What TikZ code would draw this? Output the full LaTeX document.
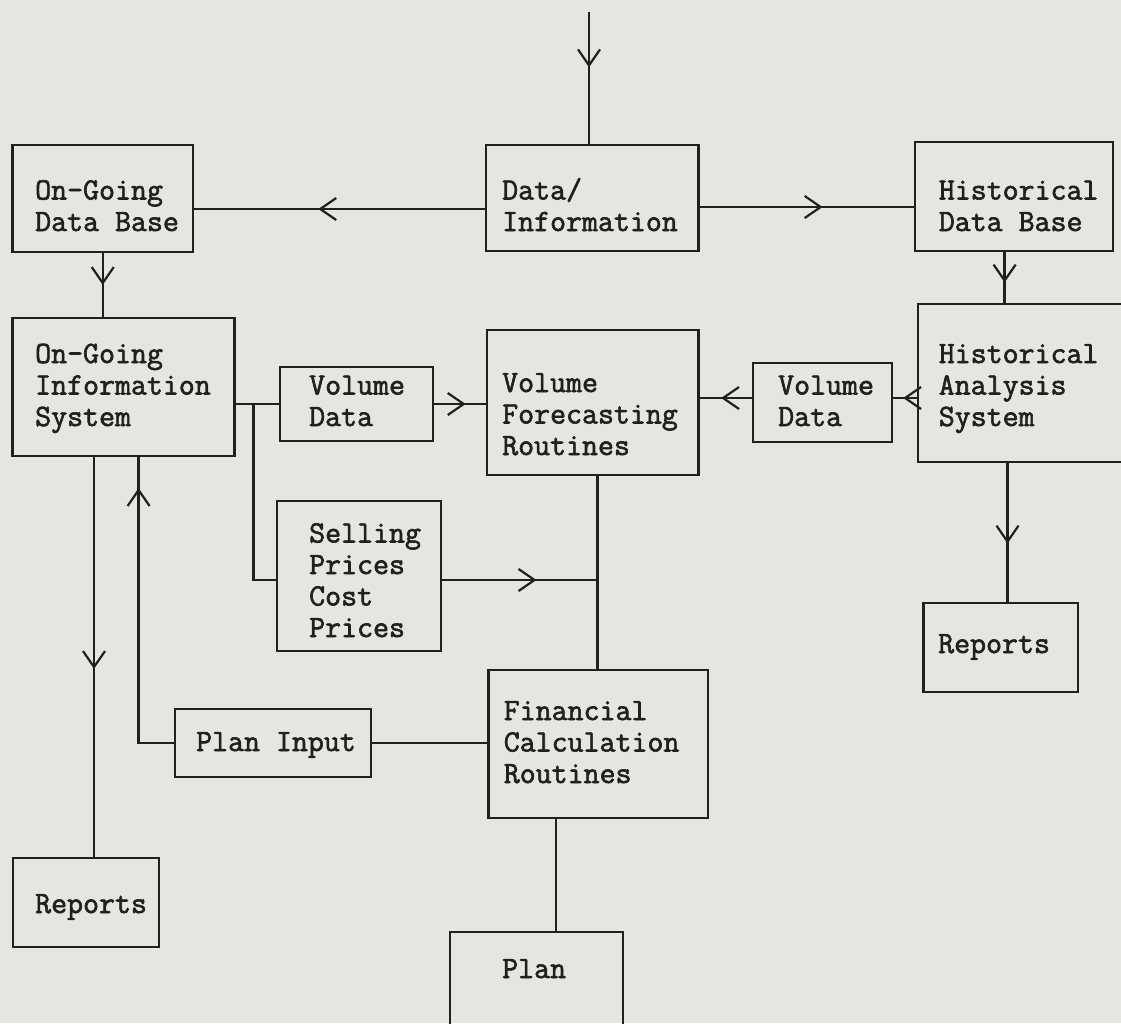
\documentclass[tikz,border=0pt]{standalone}
\usepackage{fontspec}
\newfontfamily\tw{Latin Modern Mono}[FakeBold=2]
\usetikzlibrary{arrows.meta,decorations.markings,fit}
\definecolor{paper}{RGB}{228,231,223}
\definecolor{ink}{RGB}{32,32,32}
\begin{document}
\begin{tikzpicture}[x=1pt,y=-1pt,
  box/.style={draw=ink, line width=2.5pt, inner sep=0pt, rectangle},
  txt/.style={anchor=base west, inner sep=0pt, align=left, text=ink,
              font=\tw\fontsize{31}{31.5}\selectfont},
  conn/.style={draw=ink, line width=2.3pt},
  arr/.style={postaction={decorate}, decoration={markings,
      mark=at position #1 with {\arrow{Straight Barb[length=16pt,width=22pt,line width=2.2pt]}}}}]
\fill[paper] (0,0) rectangle (1121,1023);
\useasboundingbox (0,0) rectangle (1121,1023);
\clip (0,0) rectangle (1121,1023);

% boxes
\node[box, fit={(12.5,145) (193,252)}] (ogdb) {};
\node[box, fit={(486,145) (698.6,251)}] (dinfo) {};
\node[box, fit={(915,142) (1113,251)}] (hdb) {};
\node[box, fit={(12.5,318) (234.6,456)}] (ogis) {};
\node[box, fit={(280,367) (433,441)}] (vdl) {};
\node[box, fit={(487,330) (698.6,475)}] (vfr) {};
\node[box, fit={(753,363) (892,442)}] (vdr) {};
\node[box, fit={(918,304) (1140,462)}] (has) {};
\node[box, fit={(277,501) (441,651)}] (sell) {};
\node[box, fit={(923.6,603) (1078,692)}] (repr) {};
\node[box, fit={(488.6,670) (708,818)}] (fcr) {};
\node[box, fit={(175,709) (371,777)}] (pin) {};
\node[box, fit={(13,858) (159,947)}] (repl) {};
\node[box, fit={(450,932) (623,1050)}] (plan) {};

% texts (anchor = baseline of the last line)
\node[txt] (ogdbT) at (35,231) {On-Going\\Data Base};
\node[txt] (dinfoT) at (502,231) {Data/\\Information};
\node[txt] (hdbT) at (938.6,231) {Historical\\Data Base};
\node[txt] (ogisT) at (35,426) {On-Going\\Information\\System};
\node[txt] (vdlT) at (309,426) {Volume\\Data};
\node[txt] (vfrT) at (502,455) {Volume\\Forecasting\\Routines};
\node[txt] (vdrT) at (778,426) {Volume\\Data};
\node[txt] (hasT) at (938.6,426) {Historical\\Analysis\\System};
\node[txt] (sellT) at (309,637) {Selling\\Prices\\Cost\\Prices};
\node[txt] (reprT) at (938,653) {Reports};
\node[txt] (fcrT) at (503.6,783) {Financial\\Calculation\\Routines};
\node[txt] (pinT) at (196,751) {Plan Input};
\node[txt] (replT) at (35,913) {Reports};
\node[txt] (planT) at (502,978) {Plan};

% connectors
\coordinate (in) at (589,12);
\draw[conn,arr=0.42] (in) -- (in |- dinfo.north);
\draw[conn,arr=0.573] (dinfo.west |- 0,209) -- (ogdb.east |- 0,209);
\draw[conn,arr=0.574] (dinfo.east |- 0,207) -- (hdb.west |- 0,207);
\draw[conn,arr=0.5] (ogdb.south) -- (ogdb.south |- ogis.north);
\draw[conn] (ogis.east |- vdl.west) -- (vdl.west);
\coordinate (j1) at (253.6,404);
\draw[conn] (j1) |- (sell.west |- 0,580);
\draw[conn,arr=0.61] (vdl.east) -- (vdl.east -| vfr.west);
\draw[conn,arr=0.58] (has.west |- 0,398) -- (vdr.east |- 0,398);
\draw[conn,arr=0.59] (vdr.west |- 0,398) -- (vfr.east |- 0,398);
\draw[conn,arr=0.6] (hdb.south -| 1004.6,0) -- (has.north -| 1004.6,0);
\draw[conn,arr=0.58] (has.south -| 1007.5,0) -- (repr.north -| 1007.5,0);
\draw[conn] (vfr.south -| 597.5,0) -- (fcr.north -| 597.5,0);
\coordinate (j2) at (597.5,580);
\draw[conn,arr=0.607] (sell.east |- j2) -- (j2);
\draw[conn] (fcr.south -| 556,0) -- (plan.north -| 556,0);
\draw[conn] (fcr.west |- pin.east) -- (pin.east);
\draw[conn,arr=0.904] (pin.west) -| (ogis.south -| 138.6,0);
\draw[conn,arr=0.53] (ogis.south -| 94,0) -- (repl.north -| 94,0);
\end{tikzpicture}
\end{document}
